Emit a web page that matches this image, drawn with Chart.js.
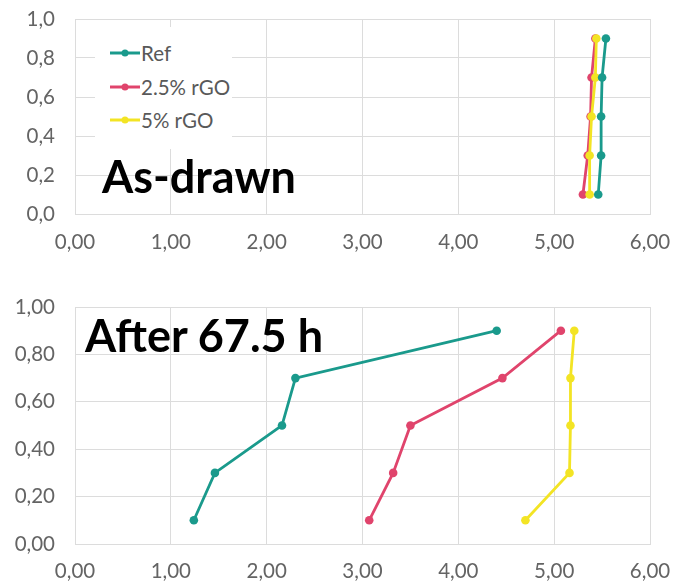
<!DOCTYPE html>
<html>
<head>
<meta charset="utf-8">
<script src="https://cdn.jsdelivr.net/npm/chart.js@4.4.1/dist/chart.umd.min.js"></script>
<style>
  html, body { margin: 0; padding: 0; background: #ffffff; }
  body { width: 686px; height: 584px; position: relative; overflow: hidden; font-family: Lato, "Open Sans", sans-serif; }
  .wrap { position: absolute; left: 0; width: 686px; }
  #w1 { top: 0; height: 260px; }
  #w2 { top: 288px; height: 296px; }
  .legend { position: absolute; left: 95px; top: 27px; width: 137px; height: 122px; background: #ffffff; }
  .item { position: absolute; left: 15px; height: 24px; font-size: 20.5px; line-height: 24px; color: #595959; white-space: nowrap; }
  .item canvas { position: absolute; left: 0; top: 0; }
  .item span { position: absolute; left: 31px; top: 0; }
  .title { position: absolute; font-family: Lato, sans-serif; font-weight: 700; font-size: 45px; line-height: 44px; color: #000000; white-space: nowrap; }
</style>
</head>
<body>
<div class="wrap" id="w1"><canvas id="c1" width="686" height="260"></canvas></div>
<div class="wrap" id="w2"><canvas id="c2" width="686" height="296"></canvas></div>
<div class="legend" id="legend"></div>
<div class="title" style="left:102px; top:154px;">As-drawn</div>
<div class="title" style="left:85px; top:313px;">After 67.5 h</div>
<script>
// ---- data ----
const seriesNames = ["Ref", "2.5% rGO", "5% rGO"];
const seriesColors = ["#1a9a8c", "#e0446c", "#f3e424"];
const depth = [0.1, 0.3, 0.5, 0.7, 0.9];
// As-drawn (x values for each depth)
const refAsDrawn = [5.46, 5.49, 5.49, 5.50, 5.54];
const rgo25AsDrawn = [5.30, 5.35, 5.38, 5.39, 5.43];
const rgo5AsDrawn = [5.37, 5.37, 5.39, 5.43, 5.44];
// After 67.5 h
const refAfter = [1.24, 1.46, 2.16, 2.30, 4.40];
const rgo25After = [3.07, 3.32, 3.50, 4.46, 5.07];
const rgo5After = [4.70, 5.16, 5.17, 5.17, 5.21];
// ticks
const xMin = 0, xMax = 6, xStep = 1;
const yMin = 0, yMax = 1, yStep = 0.2;

function pts(xs) { return xs.map((x, i) => ({ x: x, y: depth[i] })); }
function fmt(v, d) { return v.toFixed(d).replace('.', ','); }

function makeDatasets(a, b, c) {
  const vals = [a, b, c];
  const orders = [0, 2, 1];
  return vals.map((v, i) => ({
    label: seriesNames[i],
    data: pts(v),
    borderColor: seriesColors[i],
    backgroundColor: seriesColors[i],
    showLine: true,
    borderWidth: 2.8,
    pointRadius: 4.3,
    pointHoverRadius: 4.3,
    pointBorderWidth: 0,
    order: orders[i],
    tension: 0
  }));
}

function makeChart(id, datasets, yDec, cfg) {
  const gridColor = "#dcdcdc";
  const tickColor = "#646464";
  const font = { family: "Lato", size: 20.5 };
  return new Chart(document.getElementById(id), {
    type: 'scatter',
    data: { datasets: datasets },
    options: {
      responsive: false,
      animation: false,
      events: [],
      layout: { padding: { left: 0, top: cfg.top, right: 36, bottom: 0 } },
      plugins: { legend: { display: false }, tooltip: { enabled: false } },
      scales: {
        x: {
          type: 'linear', min: xMin, max: xMax,
          grid: { color: gridColor, drawTicks: false, lineWidth: 1 },
          border: { color: gridColor, width: 1 },
          ticks: { stepSize: xStep, padding: cfg.pad, color: tickColor, font: font, maxRotation: 0,
                   callback: v => fmt(v, 2) },
          afterFit: s => { s.height = cfg.h; s.paddingLeft = 0; s.paddingRight = 0; }
        },
        y: {
          type: 'linear', min: yMin, max: yMax,
          grid: { color: gridColor, drawTicks: false, lineWidth: 1 },
          border: { color: gridColor, width: 1 },
          ticks: { stepSize: yStep, padding: 20, color: tickColor, font: font,
                   callback: v => fmt(v, yDec) },
          afterFit: s => { s.width = 75; s.paddingTop = 0; s.paddingBottom = 0; }
        }
      }
    }
  });
}

makeChart('c1', makeDatasets(refAsDrawn, rgo25AsDrawn, rgo5AsDrawn), 1, { top: 19, h: 46, pad: 16 });
makeChart('c2', makeDatasets(refAfter, rgo25After, rgo5After), 2, { top: 19, h: 40, pad: 15 });

// legend (HTML overlay)
const legend = document.getElementById('legend');
const legendY = [14, 48, 81];
seriesNames.forEach((name, i) => {
  const item = document.createElement('div');
  item.className = 'item';
  item.style.top = legendY[i] + 'px';
  const cv = document.createElement('canvas');
  cv.width = 31; cv.height = 24;
  const ctx = cv.getContext('2d');
  ctx.strokeStyle = seriesColors[i];
  ctx.fillStyle = seriesColors[i];
  ctx.lineWidth = 3;
  ctx.beginPath(); ctx.moveTo(0, 12); ctx.lineTo(30, 12); ctx.stroke();
  ctx.beginPath(); ctx.arc(15, 12, 3.5, 0, Math.PI * 2); ctx.fill();
  const sp = document.createElement('span');
  sp.textContent = name;
  item.appendChild(cv);
  item.appendChild(sp);
  legend.appendChild(item);
});
</script>
</body>
</html>
